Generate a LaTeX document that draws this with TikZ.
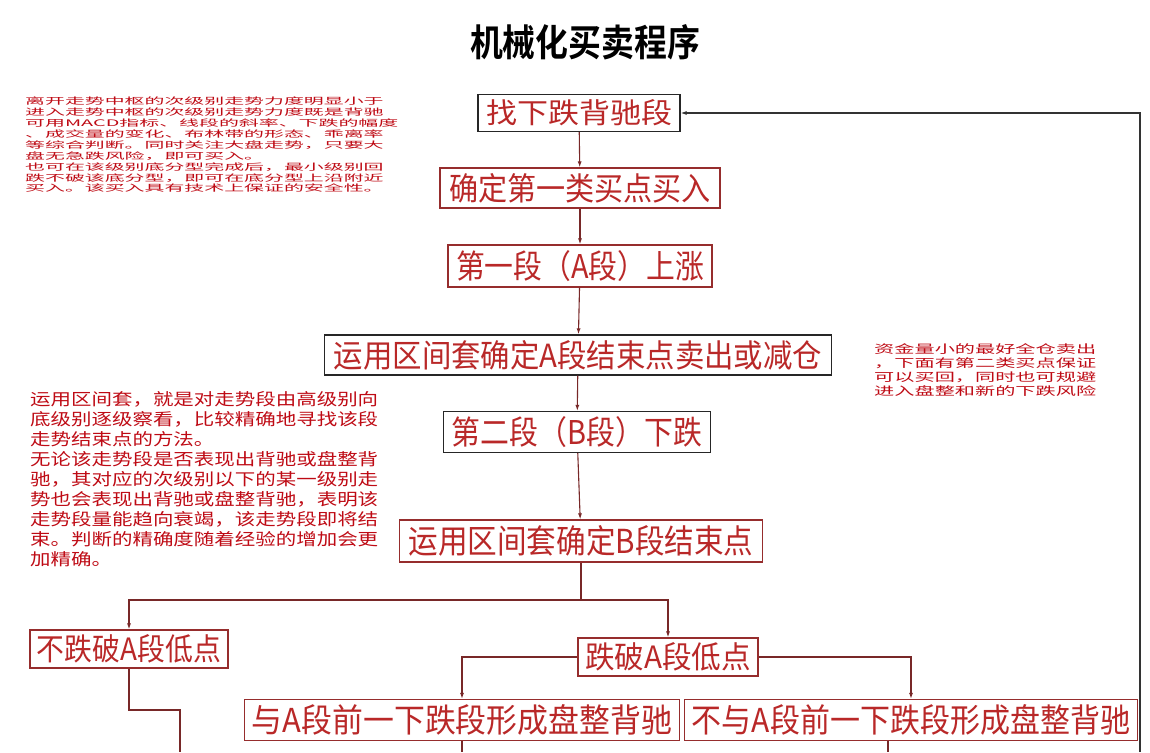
\documentclass[tikz,border=0pt]{standalone}
\usepackage{fontspec}
\setmainfont{Noto Sans CJK SC}
\newfontfamily\cjkb{Noto Sans CJK SC Bold}
\usetikzlibrary{arrows.meta}
\definecolor{boxred}{RGB}{150,45,45}
\definecolor{txtred}{RGB}{185,40,40}
\definecolor{noter}{RGB}{190,10,20}
\definecolor{linec}{RGB}{120,40,40}
\newcommand{\fit}[3]{\resizebox{#1pt}{#2pt}{#3}}
\newcommand{\blk}[3]{\resizebox*{#1pt}{#2pt}{\begin{tabular}{@{}l@{}}#3\end{tabular}}}
\begin{document}
\begin{tikzpicture}[x=1pt,y=-1pt,
  bx/.style={draw=boxred,line width=1.2pt,inner sep=0pt,text=txtred,fill=white},
  bk/.style={bx,draw=black!85},
  ln/.style={draw=linec,line width=1.1pt},
  ar/.style={ln,-{Latex[length=6pt,width=4pt]}},
  note/.style={text=noter,inner sep=0pt,anchor=north west}]
\useasboundingbox (0,0) rectangle (1150,752);
\node (title) at (585,42) {\fit{230}{32}{\cjkb 机械化买卖程序}};
\node[bk,minimum width=202pt,minimum height=37pt] (b1) at (579,113) {\fit{186}{24}{找下跌背驰段}};
\node[bx,minimum width=280pt,minimum height=40pt] (b2) at (580,188) {\fit{262}{27}{确定第一类买点买入}};
\node[bx,minimum width=264pt,minimum height=42pt] (b3) at (580,266) {\fit{248}{28}{第一段（A段）上涨}};
\node[bk,minimum width=507pt,minimum height=40pt] (b4) at (578,355) {\fit{488}{27}{运用区间套确定A段结束点卖出或减仓}};
\node[bk,minimum width=267pt,minimum height=41pt] (b5) at (577,432) {\fit{250}{28}{第二段（B段）下跌}};
\node[bx,minimum width=363pt,minimum height=42pt] (b6) at (581,541) {\fit{345}{28}{运用区间套确定B段结束点}};
\node[bx,minimum width=198pt,minimum height=38pt] (b7) at (129,649) {\fit{184}{26}{不跌破A段低点}};
\node[bx,minimum width=180pt,minimum height=38pt] (b8) at (668,657) {\fit{166}{26}{跌破A段低点}};
\node[bx,minimum width=435pt,minimum height=41pt] (b9) at (462,720) {\fit{420}{28}{与A段前一下跌段形成盘整背驰}};
\node[bx,minimum width=453pt,minimum height=41pt] (b10) at (911,720) {\fit{438}{28}{不与A段前一下跌段形成盘整背驰}};
\node[note] (n1) at (25,97) {\blk{373}{98}{离开走势中枢的次级别走势力度明显小于\\进入走势中枢的次级别走势力度既是背驰\\可用MACD指标、线段的斜率、下跌的幅度\\、成交量的变化、布林带的形态、乖离率\\等综合判断。同时关注大盘走势，只要大\\盘无急跌风险，即可买入。\\也可在该级别底分型完成后，最小级别回\\跌不破该底分型，即可在底分型上沿附近\\买入。该买入具有技术上保证的安全性。}};
\node[note] (n2) at (30,391) {\blk{348}{180}{运用区间套，就是对走势段由高级别向\\底级别逐级察看，比较精确地寻找该段\\走势结束点的方法。\\无论该走势段是否表现出背驰或盘整背\\驰，其对应的次级别以下的某一级别走\\势也会表现出背驰或盘整背驰，表明该\\走势段量能趋向衰竭，该走势段即将结\\束。判断的精确度随着经验的增加会更\\加精确。}};
\node[note] (n3) at (874,343) {\blk{222}{56}{资金量小的最好全仓卖出\\，下面有第二类买点保证\\可以买回，同时也可规避\\进入盘整和新的下跌风险}};
\draw[ar] (b1) -- (b2);
\draw[ar] (b2) -- (b3);
\draw[ar] (b3) -- (b4);
\draw[ar] (b4) -- (b5);
\draw[ar] (b5) -- (b6);
\coordinate (s) at (581,600);
\draw[ln] (b6.south) -- (s);
\draw[ar] (s) -| (b7.north);
\draw[ar] (s) -| (b8.north);
\draw[ar] (b8.west) -| (b9.north);
\draw[ar] (b8.east) -| (b10.north);
\coordinate (e1) at (180,752);
\draw[ln] (b7.south) |- (180,710) -- (e1);
\coordinate (e2) at (462,752);
\draw[ln] (b9.south) -- (e2);
\coordinate (e3) at (888,752);
\draw[ln] (888,740.5) -- (e3);
\coordinate (e4) at (1140,752);
\draw[ar,draw=black!80] (e4) |- (b1.east);
\end{tikzpicture}
\end{document}
